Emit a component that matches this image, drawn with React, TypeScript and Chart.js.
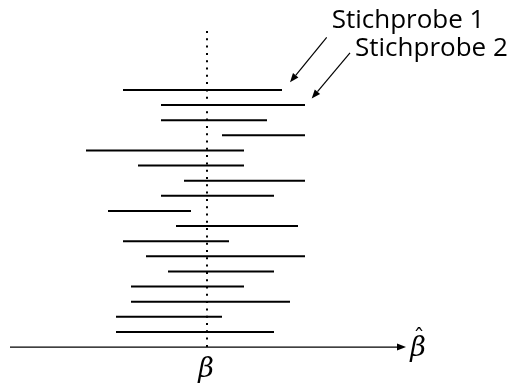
import React, { useEffect, useRef } from "react";
import { Chart, registerables } from "chart.js";

Chart.register(...registerables);

// Confidence intervals of 17 samples around the true parameter (beta = 0).
const sampleIndex = [1, 2, 3, 4, 5, 6, 7, 8, 9, 10, 11, 12, 13, 14, 15, 16, 17];
const lowerBounds = [-8.4, -4.6, -4.6, 1.5, -12.1, -6.9, -2.3, -4.6, -9.9, -3.1, -8.4, -6.1, -3.9, -7.6, -7.6, -9.1, -9.1];
const upperBounds = [7.5, 9.8, 6.0, 9.8, 3.7, 3.7, 9.8, 6.7, -1.6, 9.1, 2.2, 9.8, 6.7, 3.7, 8.3, 1.5, 6.7];

const trueBeta = 0;
const axisRow = 18;
const axisStart = -19.7;
const axisEnd = 19.9;
const dottedTop = -2.9;

const labels = ["Stichprobe 1", "Stichprobe 2"];
// arrow tails and tips in data units (x, row)
const arrowTails = [
  [11.97, -2.48],
  [14.3, -1.46],
];
const arrowTips = [
  [8.3, 0.49],
  [10.47, 1.57],
];

const annotationPlugin = {
  id: "annotations",
  afterDatasetsDraw(chart: any) {
    const { ctx, scales } = chart;
    const xs = scales.x;
    const ys = scales.y;
    const px = (v: number) => xs.getPixelForValue(v);
    const py = (v: number) => ys.getPixelForValue(v);
    ctx.save();

    // arrowhead of the horizontal axis
    const ax = px(axisEnd);
    const ay = py(axisRow);
    ctx.fillStyle = "#000";
    ctx.beginPath();
    ctx.moveTo(ax, ay);
    ctx.lineTo(ax - 9, ay - 3.5);
    ctx.lineTo(ax - 9, ay + 3.5);
    ctx.closePath();
    ctx.fill();

    // pointer arrows from the labels to the first two intervals
    ctx.strokeStyle = "#000";
    ctx.lineWidth = 1.2;
    arrowTails.forEach((tail, k) => {
      const x0 = px(tail[0]);
      const y0 = py(tail[1]);
      const x1 = px(arrowTips[k][0]);
      const y1 = py(arrowTips[k][1]);
      const ang = Math.atan2(y1 - y0, x1 - x0);
      const len = 9;
      const bx = x1 - len * Math.cos(ang);
      const by = y1 - len * Math.sin(ang);
      ctx.beginPath();
      ctx.moveTo(x0, y0);
      ctx.lineTo(bx, by);
      ctx.stroke();
      ctx.beginPath();
      ctx.moveTo(x1, y1);
      ctx.lineTo(bx + 3.5 * Math.sin(ang), by - 3.5 * Math.cos(ang));
      ctx.lineTo(bx - 3.5 * Math.sin(ang), by + 3.5 * Math.cos(ang));
      ctx.closePath();
      ctx.fill();

      ctx.font = "26px 'Open Sans'";
      ctx.textBaseline = "alphabetic";
      ctx.textAlign = "left";
      ctx.fillText(labels[k], x0 + 5, y0 - (k === 0 ? 9 : -3.3));
    });

    // parameter labels: beta under the dotted line, beta-hat at the axis end
    ctx.font = "italic 27px 'DejaVu Serif'";
    ctx.textAlign = "center";
    ctx.fillText("\u03b2", px(trueBeta) - 1, 377);
    ctx.fillText("\u03b2", px(axisEnd) + 12, 356);
    ctx.font = "23px 'DejaVu Serif'";
    ctx.fillText("\u02c6", px(axisEnd) + 13, 345);
    ctx.restore();
  },
};

export default function App() {
  const canvasRef = useRef<HTMLCanvasElement | null>(null);

  useEffect(() => {
    if (!canvasRef.current) return;
    const intervalSets = sampleIndex.map((row, i) => ({
      data: [
        { x: lowerBounds[i], y: row },
        { x: upperBounds[i], y: row },
      ],
      borderColor: "#000",
      borderWidth: 2,
      borderCapStyle: "butt",
      pointRadius: 0,
      showLine: true,
    }));
    const chart = new Chart(canvasRef.current, {
      type: "scatter",
      data: {
        datasets: [
          ...intervalSets,
          {
            data: [
              { x: trueBeta, y: dottedTop },
              { x: trueBeta, y: axisRow },
            ],
            borderColor: "#000",
            borderWidth: 2,
            borderDash: [2, 5.3],
            borderCapStyle: "butt",
            pointRadius: 0,
            showLine: true,
          },
          {
            data: [
              { x: axisStart, y: axisRow },
              { x: axisEnd - 0.8, y: axisRow },
            ],
            borderColor: "#000",
            borderWidth: 1.2,
            pointRadius: 0,
            showLine: true,
          },
        ] as any,
      },
      options: {
        animation: false,
        responsive: false,
        layout: { padding: 0 },
        plugins: { legend: { display: false }, tooltip: { enabled: false }, title: { display: false } },
        scales: {
          x: { type: "linear", display: false, min: -20.7, max: 30.4 },
          y: { type: "linear", display: false, reverse: true, min: -4.95, max: 20.44 },
        },
      },
      plugins: [annotationPlugin],
    });
    return () => chart.destroy();
  }, []);

  return (
    <div style={{ position: "fixed", left: 0, top: 0, width: 511, height: 384, background: "#fff" }}>
      <canvas ref={canvasRef} width={511} height={384} style={{ display: "block" }} />
    </div>
  );
}
